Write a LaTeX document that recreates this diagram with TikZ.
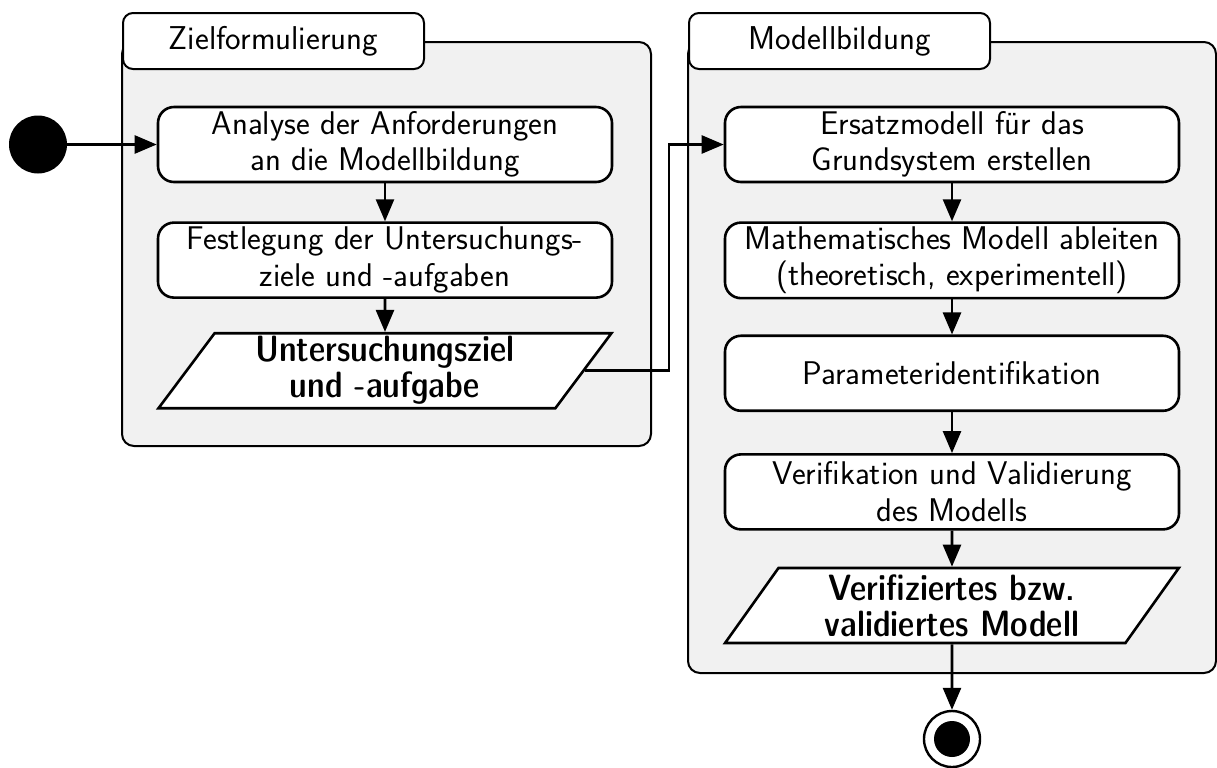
\documentclass[tikz,border=0pt]{standalone}
\usepackage{fontspec}
\usepackage{tikz}
\usetikzlibrary{arrows.meta,positioning,fit,shapes.geometric}
\newfontface\objfont{lmsansdemicond10-regular}[Extension=.otf]
\definecolor{grpgray}{HTML}{F1F1F1}
\newcommand{\actfont}{\fontsize{16.4}{18.3}\selectfont\sffamily}
\tikzset{
  act/.style={draw, line width=1.3pt, fill=white, rounded corners=8pt, align=center, font=\actfont, minimum width=227pt, minimum height=37.5pt, inner sep=2pt},
  obj/.style={trapezium, trapezium left angle=59, trapezium right angle=121, trapezium stretches=true, draw, line width=1.3pt, fill=white, align=center, font=\fontsize{18.3}{18}\selectfont\objfont, minimum width=227pt, minimum height=37.5pt, inner sep=1pt},
  grp/.style={draw, line width=1pt, fill=grpgray, rounded corners=6pt, inner sep=0pt},
  grplbl/.style={draw, line width=1pt, fill=white, rounded corners=5pt, font=\fontsize{16.5}{18}\selectfont\sffamily, minimum width=150.5pt, minimum height=28pt, anchor=north west},
  initnode/.style={circle, fill=black, minimum size=29pt, inner sep=0pt},
  finalnode/.style={circle, draw, line width=1.2pt, fill=white, minimum size=28pt, inner sep=0pt, path picture={\fill[black] (path picture bounding box.center) circle (9pt);}},
  fl/.style={-{Triangle[length=11pt, width=9pt]}, line width=1.3pt},
}
\begin{document}
\begin{tikzpicture}[x=0.5pt, y=-0.5pt, node distance=19pt]
  \useasboundingbox (0,0) rectangle (1217,767);
  % the two partitions with their tabs
  \node[grp, fit={(122,42) (651,446)}] (zielgrp) {};
  \node[grplbl] (ziellbl) at (122,12) {Zielformulierung};
  \node[grp, fit={(688,42) (1216,673)}] (modgrp) {};
  \node[grplbl] (modlbl) at (688,12) {Modellbildung};
  % left column
  \node[initnode] (ini) at (38,144.5) {};
  \node[act] (ana) at (385,144.5) {Analyse der Anforderungen\\an die Modellbildung};
  \node[act, below=of ana] (fest) {Festlegung der Untersuchungs-\\ziele und -aufgaben};
  \node[obj, below=16.5pt of fest] (ziel) {Untersuchungsziel\\und -aufgabe};
  % right column
  \node[act] (ers) at (952,144.5) {Ersatzmodell für das\\Grundsystem erstellen};
  \node[act, below=of ers] (mat) {Mathematisches Modell ableiten\\(theoretisch, experimentell)};
  \node[act, below=17.5pt of mat] (par) {Parameteridentifikation};
  \node[act, below=20.5pt of par] (ver) {Verifikation und Validierung\\des Modells};
  \node[obj, below=18pt of ver] (vmod) {Verifiziertes bzw.\\validiertes Modell};
  \node[finalnode] (fin) at (952,739) {};
  % control flow
  \draw[fl] (ini) -- (ana);
  \draw[fl] (ana) -- (fest);
  \draw[fl] (fest) -- (ziel);
  \draw[fl] (ziel.east) -- ++(84,0) |- (ers);
  \draw[fl] (ers) -- (mat);
  \draw[fl] (mat) -- (par);
  \draw[fl] (par) -- (ver);
  \draw[fl] (ver) -- (vmod);
  \draw[fl] (vmod) -- (fin);
\end{tikzpicture}
\end{document}
